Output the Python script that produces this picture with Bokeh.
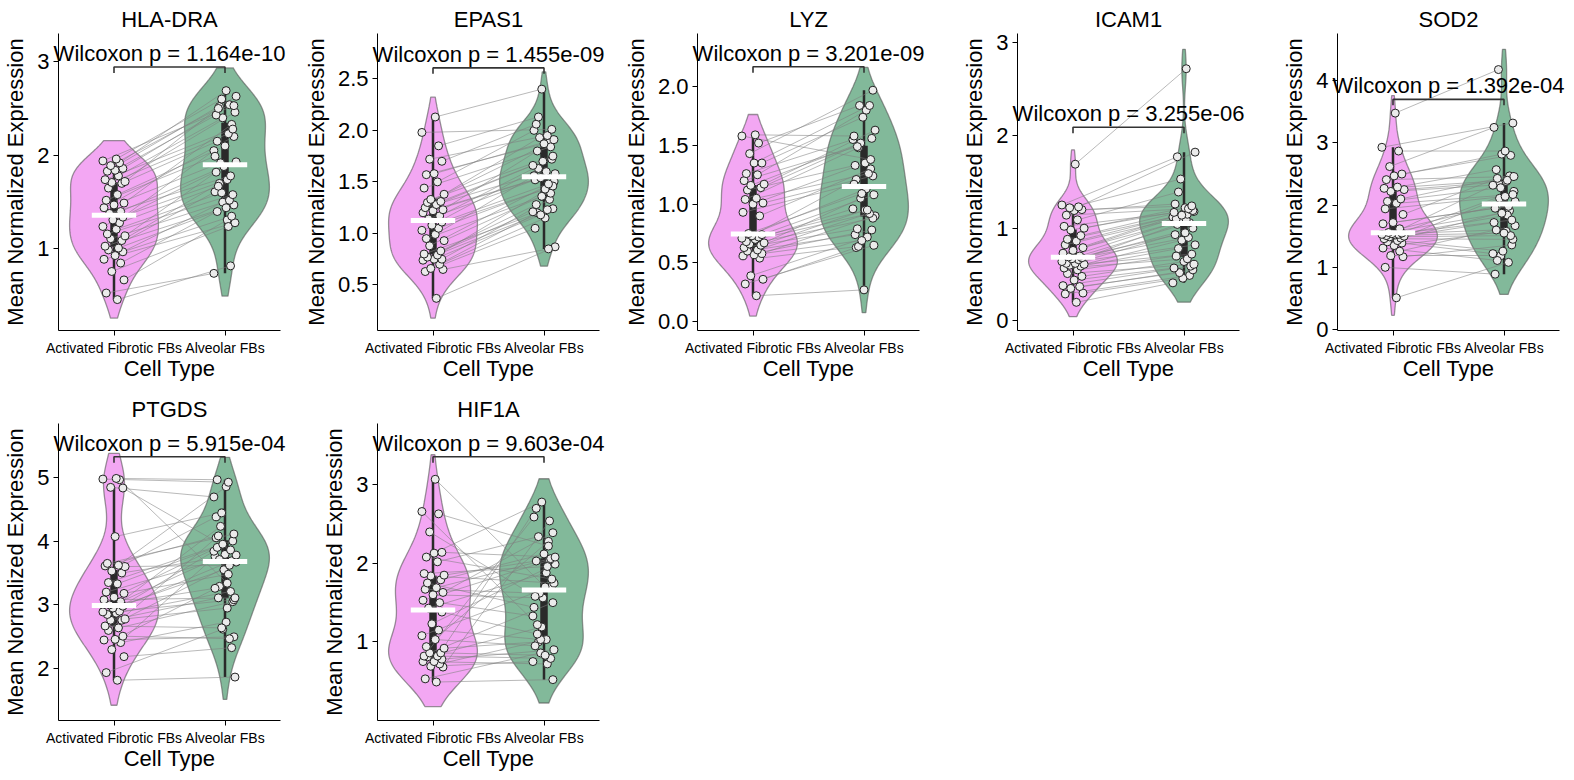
import numpy as np
from bokeh.plotting import figure
from bokeh.layouts import row, column
from bokeh.models import Range1d, FixedTicker
from bokeh.core.properties import value
from bokeh.embed import file_html
from bokeh.resources import INLINE

FONT = "Liberation Sans"

genes = ["HLA-DRA", "EPAS1", "LYZ", "ICAM1", "SOD2", "PTGDS", "HIF1A"]
categories = ["Activated Fibrotic FBs", "Alveolar FBs"]
pvalues = ["1.164e-10", "1.455e-09", "3.201e-09", "3.255e-06", "1.392e-04", "5.915e-04", "9.603e-04"]

hla_dra_fib = [0.46, 0.53, 0.67, 0.76, 0.85, 0.89, 0.93, 0.97, 0.99, 1.01,
               1.03, 1.09, 1.11, 1.14, 1.16, 1.21, 1.24, 1.28, 1.31, 1.34,
               1.38, 1.40, 1.44, 1.47, 1.49, 1.52, 1.58, 1.65, 1.70, 1.71,
               1.72, 1.74, 1.78, 1.83, 1.84, 1.86, 1.89, 1.92, 1.94, 1.96]
hla_dra_alv = [0.82, 0.74, 1.31, 1.24, 1.40, 1.28, 1.50, 1.35, 1.61, 1.44,
               1.47, 1.70, 1.52, 1.82, 1.58, 1.60, 1.93, 1.67, 1.74, 2.05,
               1.78, 1.88, 2.20, 1.92, 2.33, 1.99, 2.10, 2.46, 2.15, 2.23,
               2.52, 2.28, 2.40, 2.63, 2.43, 2.54, 2.50, 2.69, 2.53, 2.60]

epas1_fib = [0.37, 0.63, 0.65, 0.66, 0.70, 0.74, 0.75, 0.75, 0.77, 0.79,
             0.80, 0.83, 0.88, 0.93, 0.95, 0.99, 1.03, 1.05, 1.08, 1.11,
             1.14, 1.17, 1.20, 1.22, 1.23, 1.25, 1.28, 1.30, 1.31, 1.33,
             1.38, 1.44, 1.50, 1.57, 1.58, 1.70, 1.72, 1.85, 1.98, 2.13]
epas1_alv = [0.87, 1.05, 0.85, 1.20, 1.15, 1.24, 1.18, 1.33, 1.21, 1.42,
             1.23, 1.28, 1.50, 1.36, 1.39, 1.56, 1.43, 1.46, 1.63, 1.48,
             1.52, 1.72, 1.54, 1.58, 1.80, 1.60, 1.66, 1.88, 1.70, 1.75,
             1.93, 1.84, 2.00, 1.87, 1.91, 2.06, 1.95, 2.13, 2.01, 2.40]

lyz_fib = [0.22, 0.32, 0.36, 0.39, 0.54, 0.56, 0.57, 0.58, 0.60, 0.61,
           0.63, 0.65, 0.66, 0.67, 0.68, 0.70, 0.71, 0.72, 0.73, 0.74,
           0.75, 0.90, 0.93, 1.00, 1.01, 1.04, 1.05, 1.12, 1.14, 1.16,
           1.17, 1.20, 1.25, 1.26, 1.35, 1.35, 1.43, 1.52, 1.58, 1.59]
lyz_alv = [0.27, 0.65, 0.63, 0.72, 0.64, 0.78, 0.69, 0.90, 0.74, 0.92,
           0.79, 0.95, 0.88, 1.05, 0.92, 0.96, 1.13, 0.95, 1.21, 1.08,
           1.09, 1.30, 1.17, 1.35, 1.24, 1.48, 1.26, 1.33, 1.56, 1.52,
           1.63, 1.49, 1.80, 1.55, 1.84, 1.74, 1.97, 1.84, 1.38, 1.58]

icam1_fib = [0.20, 0.29, 0.30, 0.35, 0.37, 0.38, 0.44, 0.48, 0.51, 0.55,
             0.57, 0.59, 0.60, 0.61, 0.62, 0.62, 0.64, 0.66, 0.67, 0.68,
             0.69, 0.70, 0.73, 0.76, 0.79, 0.82, 0.86, 0.88, 0.92, 0.98,
             1.00, 1.02, 1.09, 1.14, 1.19, 1.20, 1.22, 1.23, 1.25, 1.69]
icam1_alv = [0.41, 0.49, 0.46, 0.55, 0.52, 0.59, 0.57, 0.64, 0.61, 0.70,
             0.67, 0.78, 0.72, 0.87, 0.82, 0.93, 0.90, 1.04, 0.95, 1.00,
             1.08, 1.06, 1.12, 1.09, 1.15, 1.10, 1.18, 1.14, 1.20, 1.17,
             1.22, 1.19, 1.39, 1.21, 1.26, 1.24, 1.53, 1.82, 1.77, 2.72]

sod2_fib = [0.51, 1.00, 1.17, 1.19, 1.26, 1.31, 1.35, 1.39, 1.41, 1.43,
            1.46, 1.47, 1.49, 1.50, 1.51, 1.52, 1.53, 1.53, 1.54, 1.55,
            1.56, 1.62, 1.70, 1.72, 1.85, 1.94, 2.03, 2.06, 2.10, 2.22,
            2.25, 2.27, 2.29, 2.41, 2.47, 2.50, 2.62, 2.87, 2.93, 3.48]
sod2_alv = [1.08, 0.89, 1.36, 1.19, 1.67, 1.11, 1.58, 1.22, 1.91, 1.26,
            1.45, 2.11, 1.51, 1.72, 1.55, 2.22, 1.60, 1.84, 2.36, 1.76,
            1.87, 2.06, 1.95, 1.98, 2.43, 2.14, 2.17, 2.28, 2.47, 2.32,
            2.38, 2.40, 2.57, 2.46, 2.82, 2.80, 3.25, 2.87, 3.32, 4.18]

ptgds_fib = [1.82, 1.94, 2.19, 2.30, 2.41, 2.45, 2.46, 2.51, 2.60, 2.64,
             2.67, 2.76, 2.76, 2.78, 2.85, 2.87, 2.89, 2.90, 2.95, 2.98,
             3.00, 3.05, 3.08, 3.12, 3.18, 3.20, 3.33, 3.35, 3.50, 3.53,
             3.60, 3.61, 3.62, 3.65, 4.07, 4.83, 4.84, 4.96, 4.97, 4.98]
ptgds_alv = [1.87, 2.62, 2.33, 3.76, 2.73, 2.50, 3.29, 2.47, 4.05, 3.05,
             2.64, 3.67, 3.11, 2.95, 3.84, 3.21, 3.55, 3.08, 4.23, 3.69,
             3.26, 3.79, 3.11, 3.90, 3.48, 3.71, 4.00, 3.95, 3.78, 4.38,
             3.62, 4.08, 4.85, 4.11, 4.44, 3.86, 4.69, 3.34, 4.92, 4.96]

hif1a_fib = [0.49, 0.53, 0.68, 0.69, 0.72, 0.75, 0.75, 0.78, 0.81, 0.82,
             0.82, 0.86, 0.86, 0.92, 0.94, 1.03, 1.08, 1.15, 1.23, 1.38,
             1.43, 1.50, 1.53, 1.60, 1.63, 1.67, 1.69, 1.75, 1.79, 1.84,
             1.85, 1.87, 2.02, 2.08, 2.13, 2.14, 2.40, 2.63, 2.66, 3.07]
hif1a_alv = [0.52, 0.86, 2.54, 0.75, 1.03, 0.72, 2.70, 0.90, 1.19, 0.79,
             2.59, 0.83, 1.50, 1.00, 2.28, 0.95, 1.71, 1.03, 1.99, 1.10,
             1.88, 1.33, 2.04, 1.56, 2.39, 1.62, 2.06, 1.44, 2.12, 1.75,
             2.03, 1.96, 2.34, 1.80, 2.78, 2.08, 1.58, 2.22, 1.22, 1.70]

fib_values = [hla_dra_fib, epas1_fib, lyz_fib, icam1_fib, sod2_fib, ptgds_fib, hif1a_fib]
alv_values = [hla_dra_alv, epas1_alv, lyz_alv, icam1_alv, sod2_alv, ptgds_alv, hif1a_alv]

ytick_labels = [
    ["1", "2", "3"],
    ["0.5", "1.0", "1.5", "2.0", "2.5"],
    ["0.0", "0.5", "1.0", "1.5", "2.0"],
    ["0", "1", "2", "3"],
    ["0", "1", "2", "3", "4"],
    ["2", "3", "4", "5"],
    ["1", "2", "3"],
]

y_ranges = [(0.13, 3.30), (0.058, 2.94), (-0.076, 2.453), (-0.104, 3.10),
            (-0.016, 4.76), (1.19, 5.84), (0.0, 3.78)]
bracket_y = [2.943, 2.606, 2.17, 2.088, 3.70, 5.32, 3.356]
fig_widths = [300, 320, 320, 320, 314, 300, 320]
border_left = [58, 77, 77, 77, 77, 58, 77]
FRAME_W = 222

jitter = [0.03, -0.07, 0.09, -0.02, 0.06, -0.09, 0.01, 0.08, -0.05, 0.04,
          -0.08, 0.07, -0.03, 0.10, -0.06, 0.02, -0.10, 0.05, -0.01, 0.08,
          -0.04, 0.06, -0.09, 0.00, 0.09, -0.07, 0.03, -0.05, 0.07, -0.02,
          0.10, -0.08, 0.04, -0.06, 0.01, 0.08, -0.03, 0.05, -0.10, 0.02]

PINK = "#EE82EE"
GREEN = "#2E8B57"


def kde_curve(vals, bw_adjust=1.0, cut=1.0, n=256):
    v = np.asarray(vals, dtype=float)
    bw = np.std(v, ddof=1) * len(v) ** (-0.2) * bw_adjust
    grid = np.linspace(v.min() - cut * bw, v.max() + cut * bw, n)
    dens = np.exp(-0.5 * ((grid[:, None] - v[None, :]) / bw) ** 2).sum(axis=1)
    return grid, dens / dens.max()


def box_stats(vals):
    v = np.asarray(vals, dtype=float)
    q1, med, q3 = np.percentile(v, [25, 50, 75])
    iqr = q3 - q1
    lo = v[v >= q1 - 1.5 * iqr].min()
    hi = v[v <= q3 + 1.5 * iqr].max()
    return q1, med, q3, lo, hi


def make_panel(k):
    w = fig_widths[k]
    L = border_left[k]
    R = w - L - FRAME_W
    p = figure(width=w, height=390, x_range=Range1d(-0.5, 1.5),
               y_range=Range1d(*y_ranges[k]), output_backend="svg",
               toolbar_location=None, min_border_left=L, min_border_right=R,
               min_border_top=33, min_border_bottom=60, title=genes[k])
    p.title.text_font = FONT
    p.title.text_font_size = "22px"
    p.title.text_font_style = "normal"
    p.title.align = "center"
    p.title.text_color = "black"
    p.title.standoff = 3
    p.grid.visible = False
    p.outline_line_color = None

    fib = fib_values[k]
    alv = alv_values[k]
    groups = [(0, fib, PINK, 0.7), (1, alv, GREEN, 0.6)]

    # violins (Gaussian KDE of each group's values)
    for pos, vals, col, al in groups:
        grid, d = kde_curve(vals)
        xs = np.concatenate([pos + 0.4 * d, (pos - 0.4 * d)[::-1]])
        ys = np.concatenate([grid, grid[::-1]])
        p.patch(xs, ys, fill_color=col, fill_alpha=al, line_color="#555555",
                line_alpha=0.6, line_width=1.3)

    # inner box (whiskers + IQR)
    meds = []
    for pos, vals, col, al in groups:
        q1, med, q3, lo, hi = box_stats(vals)
        p.segment(x0=[pos], y0=[lo], x1=[pos], y1=[hi], line_color="#2a2a2a", line_width=2.5)
        p.segment(x0=[pos], y0=[q1], x1=[pos], y1=[q3], line_color="#2a2a2a", line_width=7.5)
        meds.append((pos, med))

    # paired lines and points
    jf = np.array(jitter)
    ja = np.roll(jf, 7 * k + 3)
    xf = 0 + jf[:len(fib)]
    xa = 1 + ja[:len(alv)]
    p.segment(x0=xf, y0=fib, x1=xa, y1=alv, line_color="grey", line_alpha=0.55, line_width=1)
    p.scatter(xf, fib, size=8, fill_color="#EBEBEB", line_color="#222222", line_width=1)
    p.scatter(xa, alv, size=8, fill_color="#EBEBEB", line_color="#222222", line_width=1)

    # median bars
    for pos, med in meds:
        p.segment(x0=[pos - 0.2], y0=[med], x1=[pos + 0.2], y1=[med], line_color="white", line_width=5)

    # significance bracket and text
    by = bracket_y[k]
    y0, y1 = y_ranges[k]
    t = 0.02 * (y1 - y0)
    p.line([0, 0, 1, 1], [by - t, by, by, by - t], line_color="#333333", line_width=1.6)
    p.text(x=[0.5], y=[by], text=[f"Wilcoxon p = {pvalues[k]}"], text_align="center",
           text_baseline="bottom", text_font=value(FONT), text_font_size="22px",
           text_color="black", level="overlay", y_offset=-1)

    # axes
    p.xaxis.ticker = FixedTicker(ticks=[0, 1])
    p.xaxis.major_label_overrides = {0: categories[0], 1: categories[1]}
    p.xaxis.major_label_text_font_size = "14px"
    p.xaxis.axis_label = "Cell Type"
    p.xaxis.axis_label_standoff = -3

    ticks = [float(s) for s in ytick_labels[k]]
    p.yaxis.ticker = FixedTicker(ticks=ticks)
    p.yaxis.major_label_overrides = {t_: s for t_, s in zip(ticks, ytick_labels[k])}
    p.yaxis.major_label_text_font_size = "22px"
    p.yaxis.axis_label = "Mean Normalized Expression"
    p.yaxis.axis_label_standoff = 6

    for ax in (p.xaxis[0], p.yaxis[0]):
        ax.axis_label_text_font = FONT
        ax.axis_label_text_font_size = "22px"
        ax.axis_label_text_font_style = "normal"
        ax.axis_label_text_color = "black"
        ax.major_label_text_font = FONT
        ax.major_label_text_color = "black"
        ax.minor_tick_line_color = None
        ax.major_tick_out = 5
        ax.major_tick_in = 0
        ax.major_label_standoff = 4
        ax.axis_line_color = "black"
        ax.major_tick_line_color = "black"
    return p


panels = [make_panel(k) for k in range(len(genes))]
layout = column(row(*panels[:5]), row(*panels[5:]))

open("out.html", "w").write(file_html(layout, INLINE))
